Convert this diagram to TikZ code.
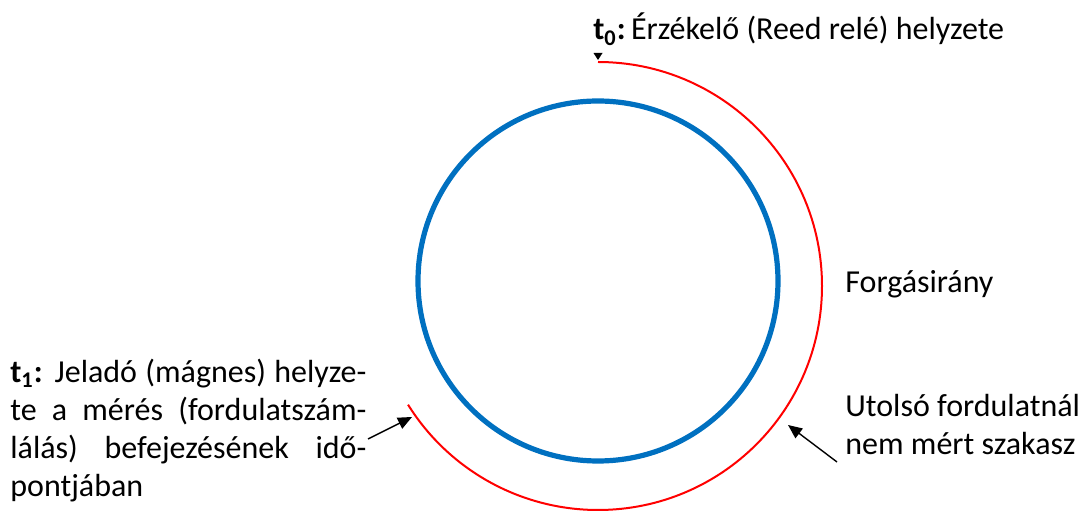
\documentclass[tikz,border=0pt]{standalone}
\usepackage{fontspec}
\setmainfont{Carlito}
\usetikzlibrary{arrows.meta, calc}
\definecolor{wheelblue}{RGB}{0,112,192}

\begin{document}
\begin{tikzpicture}[
	x=0.5pt, y=0.5pt,
	every node/.style = {inner sep=0pt, font=\fontsize{16}{19}\selectfont},
	wheel/.style = {draw=wheelblue, line width=2.6pt},
	path arc/.style = {draw=red, line width=1pt},
	pointer/.style = {-{Triangle[length=7pt, width=6pt]}, line width=0.7pt},
	side label/.style = {anchor=base west, align=left},
	long label/.style = {anchor=north west, text width=178pt, align=justify}
]
\useasboundingbox (0,0) rectangle (1082,-512);

\coordinate (c) at (598,-286);
\draw[wheel] (598,-281) circle[radius=180];
\draw[path arc] (c) ++(90:224) coordinate (start) arc[start angle=90, end angle=-148, radius=224] coordinate (stop);
\fill ($(start)+(-4.5,9)$) -- ($(start)+(4.5,9)$) -- ($(start)+(0,2)$) -- cycle;

\node[side label] (t0) at (593,-40) {\textbf{t\textsubscript{0}:}\,Érzékelő (Reed relé) helyzete};
\node[side label] (dir) at (845,-293) {Forgásirány};
\node[side label] (rest) at (845,-455) {Utolsó fordulatnál\\nem mért szakasz};
\node[long label] (t1) at (10,-359) {\textbf{t\textsubscript{1}:} Jeladó (mágnes) helyze-\linebreak te a mérés (fordulatszám-\linebreak lálás) befejezésének idő-\linebreak pontjában};

\coordinate (t1end) at (368,-439);
\coordinate (restend) at (837,-462);
\coordinate (stophit) at (412,-417);
\coordinate (resthit) at (788,-425);
\draw[pointer] (t1end) -- (stophit);
\draw[pointer] (restend) -- (resthit);

\end{tikzpicture}
\end{document}
